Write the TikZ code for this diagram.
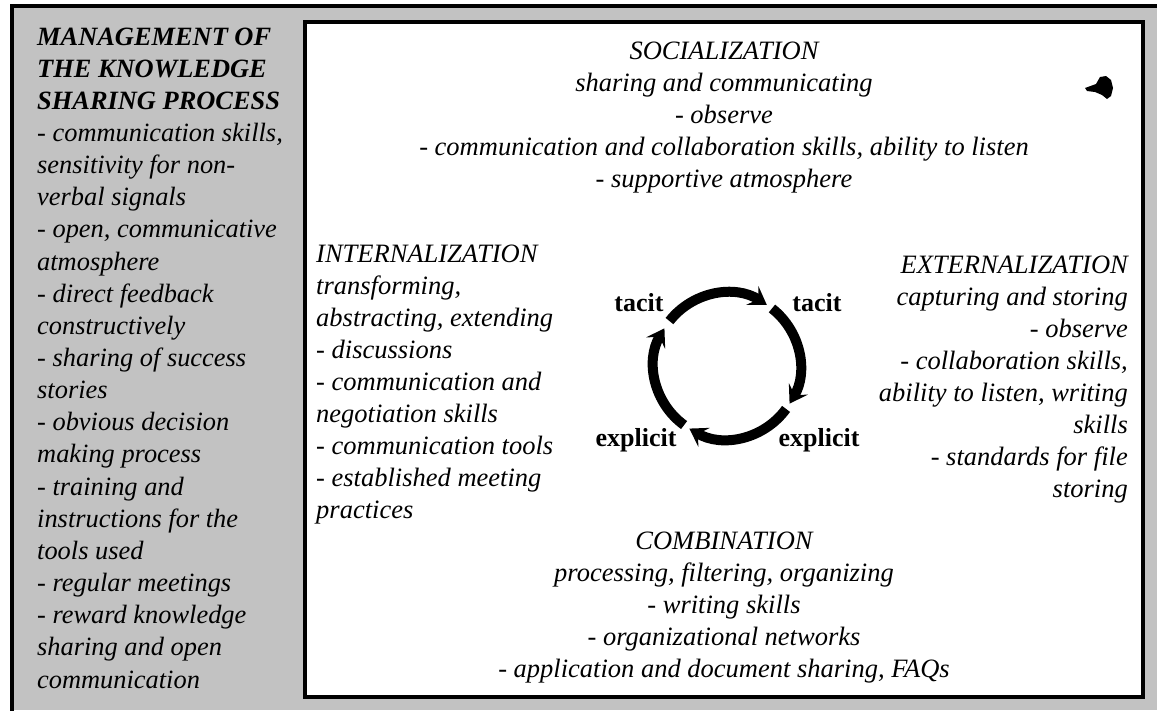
\documentclass[tikz,border=0pt]{standalone}
\usepackage{fontspec}
\setmainfont{Liberation Serif}
\usetikzlibrary{arrows.meta}

\tikzset{
  panel/.style={fill=black!24},
  frame/.style={line width=4pt},
  body/.style={font=\fontsize{26.5}{32}\selectfont\itshape, inner sep=0pt},
  sidetext/.style={font=\fontsize{26.4}{32.15}\selectfont\itshape, inner sep=0pt, align=left, anchor=base west},
  phase/.style={font=\fontsize{26}{30}\selectfont\bfseries, inner sep=0pt, anchor=base},
  ring/.style={line width=10pt, -{Stealth[length=17pt,width=22pt,inset=7pt]}},
}

\begin{document}
\begin{tikzpicture}[x=1pt,y=-1pt]
\useasboundingbox (0,0) rectangle (1157,710);
\fill[white] (0,0) rectangle (1157,710);

% shaded surround and its outer frame
\fill[panel] (12,6) rectangle (1157,710);
\draw[frame] (12,712) -- (12,6) -- (1160,6);

% inner white box
\filldraw[fill=white, line width=3.5pt] (305,22) rectangle (1143,697);

% left-hand panel (anchored at the baseline of its last line)
\node[sidetext] (mgmt) at (37,688) {\bfseries MANAGEMENT OF\\
\bfseries THE KNOWLEDGE\\
\bfseries SHARING PROCESS\\
- communication skills,\\
sensitivity for non-\\
verbal signals\\
- open, communicative\\
atmosphere\\
- direct feedback\\
constructively\\
- sharing of success\\
stories\\
- obvious decision\\
making process\\
- training and\\
instructions for the\\
tools used\\
- regular meetings\\
- reward knowledge\\
sharing and open\\
communication};

% the four phases (each anchored at the baseline of its last line)
\node[body, align=center, anchor=base] (soc) at (724,187) {SOCIALIZATION\\
sharing and communicating\\
- observe\\
- communication and collaboration skills, ability to listen\\
- supportive atmosphere};

\node[body, align=left, anchor=base west] (int) at (316,518) {INTERNALIZATION\\
transforming,\\
abstracting, extending\\
- discussions\\
- communication and\\
negotiation skills\\
- communication tools\\
- established meeting\\
practices};

\node[body, align=right, anchor=base east] (ext) at (1128,497) {EXTERNALIZATION\\
capturing and storing\\
- observe\\
- collaboration skills,\\
ability to listen, writing\\
skills\\
- standards for file\\
storing};

\node[body, align=center, anchor=base] (comb) at (724,677) {COMBINATION\\
processing, filtering, organizing\\
- writing skills\\
- organizational networks\\
- application and document sharing, FAQs};

% knowledge conversion cycle
\coordinate (c) at (727,366);
\node[phase] (tacitL) at (639,311) {tacit};
\node[phase] (tacitR) at (817,311) {tacit};
\node[phase] (explL) at (636,446) {explicit};
\node[phase] (explR) at (819,446) {explicit};

\draw[ring] ([shift={(142:73pt)}]c) arc[start angle=142, end angle=57, radius=73pt];
\draw[ring] ([shift={(52:73pt)}]c) arc[start angle=52, end angle=-31, radius=73pt];
\draw[ring] ([shift={(-36:73pt)}]c) arc[start angle=-36, end angle=-121, radius=73pt];
\draw[ring] ([shift={(-126:73pt)}]c) arc[start angle=-126, end angle=-211, radius=73pt];

% ink smudge near the top right corner
\fill (1085,88) -- (1096,84) -- (1100,77) -- (1106,76) -- (1111,80) -- (1113,88)
  -- (1111,96) -- (1107,99) -- (1102,95) -- (1095,92) -- (1087,91) -- cycle;
\end{tikzpicture}
\end{document}
